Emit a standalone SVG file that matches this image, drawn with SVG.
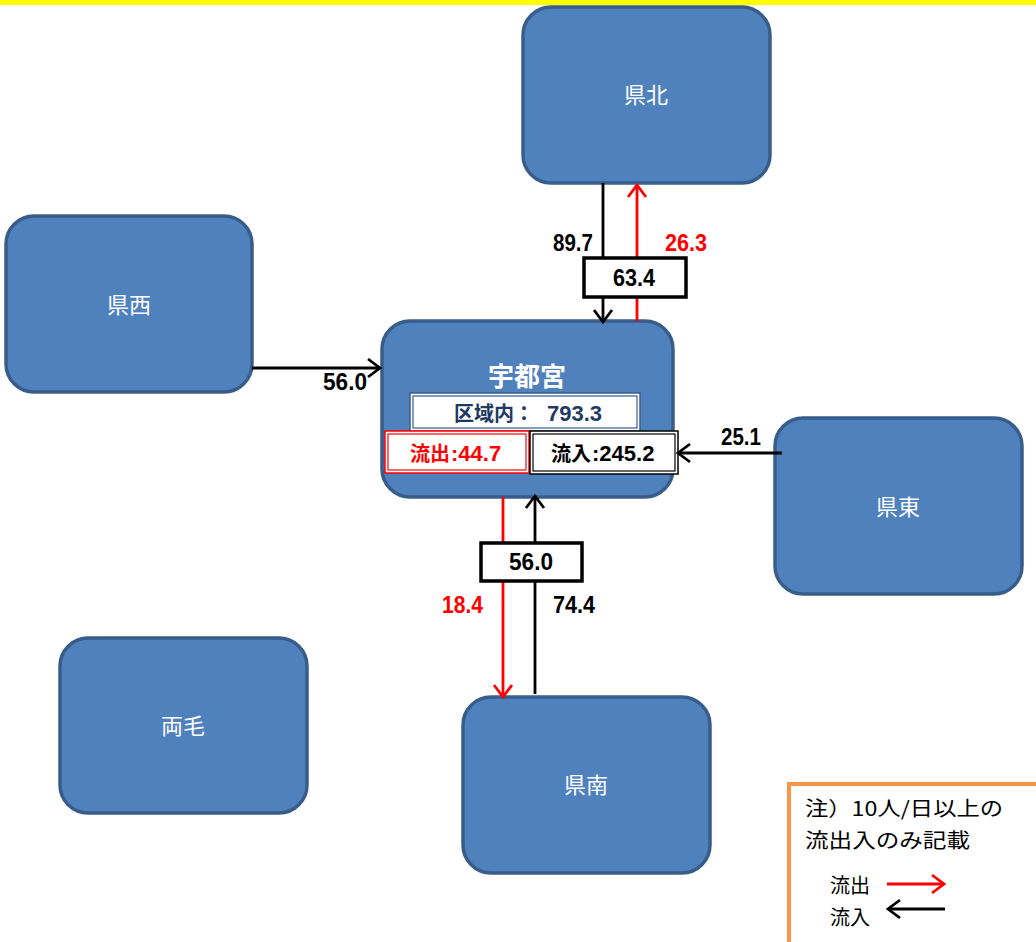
<svg xmlns="http://www.w3.org/2000/svg" width="1036" height="942" viewBox="0 0 1036 942">
<style>
.node{fill:#4F81BD;stroke:#385D8A;stroke-width:3.5}
.nl{font-family:"Noto Sans CJK JP","Noto Sans",sans-serif;font-size:22px;fill:#fff;text-anchor:middle}
.num{font-family:"Liberation Sans","Noto Sans CJK JP",sans-serif;font-weight:bold;font-size:23px}
.cj{font-family:"Noto Sans CJK JP",sans-serif;font-weight:bold}
.dg{font-family:"Liberation Sans",sans-serif;font-weight:bold}
.blk{stroke:#000;stroke-width:2.8;fill:none}
.red{stroke:#FF0000;stroke-width:2.8;fill:none}
.leg{font-family:"Noto Sans CJK JP",sans-serif;font-size:20px;fill:#000}
</style>
<defs>
<marker id="ab" markerUnits="userSpaceOnUse" markerWidth="30" markerHeight="30" viewBox="-15 -15 30 30" refX="0" refY="0" orient="auto">
<path d="M-12,-9 L0,0 L-12,9" fill="none" stroke="#000" stroke-width="2.8"/>
</marker>
<marker id="ar" markerUnits="userSpaceOnUse" markerWidth="30" markerHeight="30" viewBox="-15 -15 30 30" refX="0" refY="0" orient="auto">
<path d="M-12,-9 L0,0 L-12,9" fill="none" stroke="#FF0000" stroke-width="2.8"/>
</marker>
</defs>
<rect width="1036" height="942" fill="#fff"/>
<rect x="0" y="0" width="1036" height="5" fill="#FFFF00"/>

<g id="kenhoku"><rect class="node" x="523" y="7" width="247" height="176" rx="28"/><text class="nl" x="646" y="103">県北</text></g>
<g id="kensei"><rect class="node" x="6" y="216" width="246" height="176" rx="28"/><text class="nl" x="129" y="313">県西</text></g>
<g id="kentou"><rect class="node" x="775" y="418" width="247" height="176" rx="28"/><text class="nl" x="898" y="515">県東</text></g>
<g id="ryomo"><rect class="node" x="60" y="638" width="247" height="175" rx="28"/><text class="nl" x="183" y="734">両毛</text></g>
<g id="kennan"><rect class="node" x="463" y="697" width="247" height="176" rx="28"/><text class="nl" x="586" y="793">県南</text></g>

<g id="utsunomiya">
<rect class="node" x="382" y="321" width="291" height="176" rx="28"/>
<text class="cj" x="527" y="386" font-size="26" fill="#fff" text-anchor="middle">宇都宮</text>
<rect x="410" y="393" width="230" height="38" fill="#fff" stroke="#385D8A" stroke-width="1.5"/>
<rect x="413" y="396" width="224" height="32" fill="none" stroke="#385D8A" stroke-width="1.2"/>
<text x="454" y="421" font-size="20" fill="#1F3864"><tspan class="cj">区域内：</tspan><tspan class="dg" x="547" font-size="22">793.3</tspan></text>
<rect x="385" y="431" width="144" height="42" fill="#fff" stroke="#FF0000" stroke-width="1.5"/>
<rect x="388" y="434" width="138" height="36" fill="none" stroke="#FF0000" stroke-width="1.2"/>
<text x="410" y="461" font-size="20" fill="#FF0000"><tspan class="cj">流出</tspan><tspan class="dg" font-size="22" dx="1">:44.7</tspan></text>
<rect x="530" y="431" width="148" height="43" fill="#fff" stroke="#000" stroke-width="1.5"/>
<rect x="533" y="434" width="142" height="37" fill="none" stroke="#000" stroke-width="1.2"/>
<text x="551" y="461" font-size="20" fill="#000"><tspan class="cj">流入</tspan><tspan class="dg" font-size="22" dx="1">:245.2</tspan></text>
</g>

<g id="connectors">
<line class="blk" x1="603" y1="183" x2="603" y2="322" marker-end="url(#ab)"/>
<line class="red" x1="637" y1="321" x2="637" y2="185" marker-end="url(#ar)"/>
<line class="blk" x1="252" y1="368" x2="380" y2="368" marker-end="url(#ab)"/>
<line class="blk" x1="782" y1="453" x2="678" y2="453" marker-end="url(#ab)"/>
<line class="red" x1="503" y1="497" x2="503" y2="697" marker-end="url(#ar)"/>
<line class="blk" x1="535" y1="694" x2="535" y2="496" marker-end="url(#ab)"/>
</g>

<g id="labels">
<rect x="584" y="258" width="102" height="39" fill="#fff" stroke="#000" stroke-width="3.5"/>
<text class="num" x="613" y="286" fill="#000" textLength="42" lengthAdjust="spacingAndGlyphs">63.4</text>
<text class="num" x="553" y="251" fill="#000" textLength="40" lengthAdjust="spacingAndGlyphs">89.7</text>
<text class="num" x="665" y="251" fill="#FF0000" textLength="42" lengthAdjust="spacingAndGlyphs">26.3</text>
<text class="num" x="323" y="390" fill="#000" textLength="44" lengthAdjust="spacingAndGlyphs">56.0</text>
<text class="num" x="721" y="445" fill="#000" textLength="40" lengthAdjust="spacingAndGlyphs">25.1</text>
<rect x="481" y="543" width="101" height="38" fill="#fff" stroke="#000" stroke-width="3.5"/>
<text class="num" x="509" y="570" fill="#000" textLength="44" lengthAdjust="spacingAndGlyphs">56.0</text>
<text class="num" x="442" y="613" fill="#FF0000" textLength="41" lengthAdjust="spacingAndGlyphs">18.4</text>
<text class="num" x="553" y="613" fill="#000" textLength="42" lengthAdjust="spacingAndGlyphs">74.4</text>
</g>

<g id="legend">
<path d="M789,942 L789,784 L1036,784" fill="none" stroke="#F79646" stroke-width="4"/>
<text class="leg" x="805" y="816" textLength="198" lengthAdjust="spacingAndGlyphs">注）10人/日以上の</text>
<text class="leg" x="805" y="848" textLength="165" lengthAdjust="spacingAndGlyphs">流出入のみ記載</text>
<text class="leg" x="830" y="893">流出</text>
<text class="leg" x="830" y="925">流入</text>
<line class="red" x1="887" y1="884" x2="944" y2="884" marker-end="url(#ar)"/>
<line class="blk" x1="945" y1="909" x2="888" y2="909" marker-end="url(#ab)"/>
</g>
</svg>
